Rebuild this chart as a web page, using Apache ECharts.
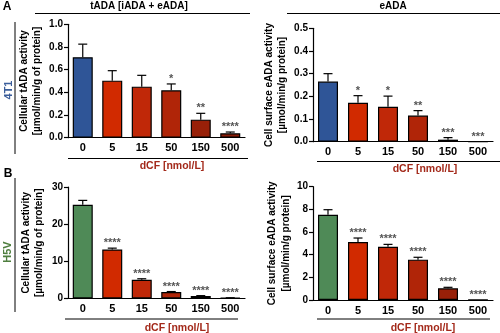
<!DOCTYPE html>
<html>
<head>
<meta charset="utf-8">
<script src="https://cdn.jsdelivr.net/npm/echarts@6/dist/echarts.min.js"></script>
<style>html,body{margin:0;padding:0;background:#fff}#c{width:500px;height:333px}</style>
</head>
<body>
<div id="c"></div>
<script>
const categories = ['0', '5', '15', '50', '150', '500'];

const a1Values = [0.71, 0.503, 0.45, 0.418, 0.159, 0.039];
const a1Err    = [0.115, 0.088, 0.10, 0.056, 0.056, 0.011];
const a1Sig    = ['', '', '', '*', '**', '****'];

const a2Values = [0.265, 0.172, 0.154, 0.115, 0.009, 0.001];
const a2Err    = [0.035, 0.031, 0.047, 0.022, 0.009, 0];
const a2Sig    = ['', '*', '*', '**', '***', '***'];

const b1Values = [25.2, 13.2, 5.06, 1.75, 0.67, 0.15];
const b1Err    = [1.2, 0.35, 0.25, 0.12, 0.1, 0.05];
const b1Sig    = ['', '****', '****', '****', '****', '****'];

const b2Values = [7.53, 5.12, 4.7, 3.56, 1.03, 0.02];
const b2Err    = [0.44, 0.35, 0.21, 0.21, 0.09, 0];
const b2Sig    = ['', '****', '****', '****', '****', '****'];

const redShades = ['#d12a00', '#c02808', '#b02508', '#982008', '#8a1c08'];
const colorsA = ['#2f5597'].concat(redShades);
const colorsB = ['#4f8a57'].concat(redShades);

const FONT = 'Liberation Sans, Arial, sans-serif';

const grids = [
  {left: 68, top: 24.3, width: 177, height: 113.4},
  {left: 313, top: 28.3, width: 180, height: 113.4},
  {left: 68, top: 187, width: 177, height: 111.5},
  {left: 313, top: 186.7, width: 180, height: 113.3}
];

const yCfg = [
  {max: 1.0, interval: 0.2, dec: 1, name: 'Cellular tADA activity\n[µmol/min/g of protein]', gap: 24},
  {max: 0.5, interval: 0.1, dec: 1, name: 'Cell surface eADA activity\n[µmol/min/g protein]', gap: 24},
  {max: 30, interval: 10, dec: 0, name: 'Cellular tADA activity\n[µmol/min/g of protein]', gap: 22},
  {max: 10, interval: 2, dec: 0, name: 'Cell surface eADA activity\n[µmol/min/g protein]', gap: 19}
];

const panels = [
  {v: a1Values, e: a1Err, s: a1Sig, c: colorsA},
  {v: a2Values, e: a2Err, s: a2Sig, c: colorsA},
  {v: b1Values, e: b1Err, s: b1Sig, c: colorsB},
  {v: b2Values, e: b2Err, s: b2Sig, c: colorsB}
];

const xAxis = grids.map((g, i) => ({
  type: 'category', gridIndex: i, data: categories,
  axisLine: {lineStyle: {color: '#000', width: 1.2}},
  axisTick: {show: false},
  axisLabel: {color: '#000', fontWeight: 'bold', fontSize: 11, fontFamily: FONT, margin: 5, interval: 0}
}));

const yAxis = yCfg.map((y, i) => ({
  type: 'value', gridIndex: i, min: 0, max: y.max, interval: y.interval,
  splitLine: {show: false},
  axisLine: {show: true, lineStyle: {color: '#000', width: 1.2}},
  axisTick: {show: true, length: 4, lineStyle: {color: '#000', width: 1.2}},
  axisLabel: {color: '#000', fontWeight: 'bold', fontSize: 10, fontFamily: FONT, margin: 5,
    formatter: v => v.toFixed(y.dec)},
  name: y.name, nameLocation: 'middle', nameRotate: 90, nameGap: y.gap,
  nameTextStyle: {color: '#000', fontWeight: 'bold', fontSize: 10, fontFamily: FONT, lineHeight: 13.5}
}));

const series = [];
panels.forEach((p, i) => {
  series.push({
    type: 'bar', xAxisIndex: i, yAxisIndex: i, barWidth: 20,
    data: p.v.map((v, k) => ({value: v, itemStyle: {color: p.c[k]}})),
    itemStyle: {borderColor: '#000', borderWidth: 1.2},
    silent: true
  });
  series.push({
    type: 'custom', xAxisIndex: i, yAxisIndex: i, z: 5, silent: true,
    data: p.v.map((v, k) => [k, v, p.e[k]]),
    renderItem: function (params, api) {
      const k = api.value(0), v = api.value(1), e = api.value(2);
      const base = api.coord([k, v]);
      const top = api.coord([k, v + e]);
      const children = [];
      if (e > 0) {
        children.push({type: 'line', shape: {x1: base[0], y1: base[1], x2: top[0], y2: top[1]},
          style: {stroke: '#000', lineWidth: 1.2}});
        children.push({type: 'line', shape: {x1: top[0] - 4.5, y1: top[1], x2: top[0] + 4.5, y2: top[1]},
          style: {stroke: '#000', lineWidth: 1.2}});
      }
      const sig = p.s[params.dataIndex];
      if (sig) {
        children.push({type: 'text', style: {text: sig, x: top[0], y: top[1] + 0.5,
          align: 'center', verticalAlign: 'bottom', fill: '#555', font: 'bold 11px ' + FONT}});
      }
      return {type: 'group', children: children};
    }
  });
});

function hline(x1, x2, y) {
  return {type: 'line', shape: {x1: x1, y1: y, x2: x2, y2: y}, style: {stroke: '#000', lineWidth: 1}, silent: true};
}
function vline(x, y1, y2) {
  return {type: 'line', shape: {x1: x, y1: y1, x2: x, y2: y2}, style: {stroke: '#000', lineWidth: 1}, silent: true};
}
function txt(t, x, y, size, color, rot) {
  return {type: 'text', x: x, y: y, rotation: rot || 0, silent: true,
    style: {text: t, align: 'center', verticalAlign: 'middle', fill: color, font: 'bold ' + size + 'px ' + FONT}};
}

const dcfColor = '#a3291a';
const graphic = [
  txt('A', 7, 7, 12, '#000'),
  txt('B', 8, 174, 12, '#000'),
  txt('tADA [iADA + eADA]', 139, 6, 10, '#000'),
  txt('eADA', 393, 6, 10, '#000'),
  hline(35, 250, 13.5),
  hline(287, 500, 13.5),
  vline(15, 22, 154),
  vline(15, 178, 312),
  txt('4T1', 9, 90, 11, '#3b5e9b', Math.PI / 2),
  txt('H5V', 8, 252, 11, '#4f7f3f', Math.PI / 2),
  hline(68, 248, 158.5),
  hline(317, 500, 161.5),
  hline(65, 238, 319),
  hline(317, 490, 319),
  txt('dCF [nmol/L]', 172, 166.5, 10.5, dcfColor),
  txt('dCF [nmol/L]', 425, 169.5, 10.5, dcfColor),
  txt('dCF [nmol/L]', 177, 328, 10.5, dcfColor),
  txt('dCF [nmol/L]', 423, 328, 10.5, dcfColor)
];

const chart = echarts.init(document.getElementById('c'), null, {renderer: 'canvas'});
chart.setOption({
  animation: false,
  backgroundColor: '#fff',
  textStyle: {fontFamily: FONT},
  grid: grids,
  xAxis: xAxis,
  yAxis: yAxis,
  series: series,
  graphic: graphic
});
</script>
</body>
</html>
